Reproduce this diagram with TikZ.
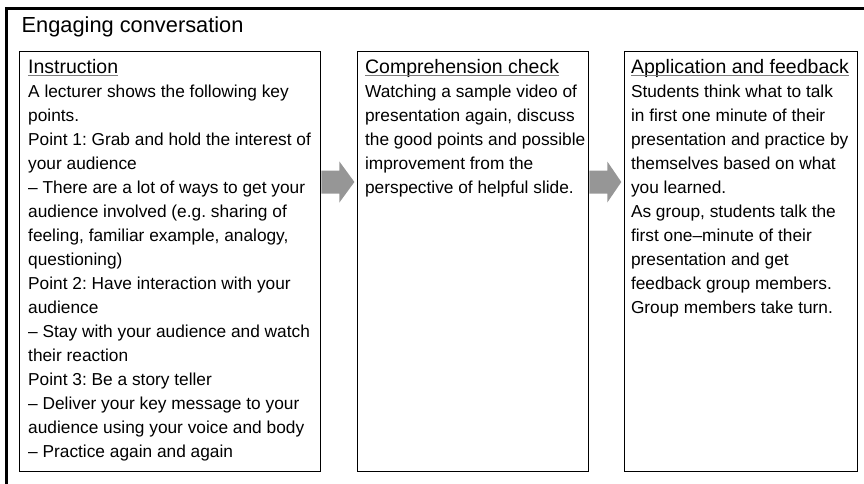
\documentclass[tikz,border=0pt]{standalone}
\usepackage{fontspec}
\setmainfont{Liberation Sans}
\usepackage{tikz}
\usetikzlibrary{positioning,calc}
\usepackage{xcolor}
\frenchspacing

\definecolor{arrowgray}{RGB}{150,150,150}
\definecolor{rulegray}{RGB}{125,125,125}

% underlined panel heading, rule at a fixed depth
\newsavebox\headbox
\newcommand{\headtext}[1]{%
  \sbox\headbox{\fontsize{19.5}{24}\selectfont #1}%
  \usebox\headbox\llap{\color{rulegray}\rule[-2.5pt]{\wd\headbox}{0.9pt}}}

% block arrow from one panel to the next
\newcommand{\flowarrow}[2]{%
  \fill[arrowgray] ($(#1.east |- arrowrow)+(0,-11.5)$) -- ++(18,0) -- ++(0,-9)
    -- ($(#2.west |- arrowrow)+(-2.5,0)$)
    -- ($(#1.east |- arrowrow)+(18,20.5)$) -- ++(0,-9) -- ++(-18,0) -- cycle;}

\begin{document}
\begin{tikzpicture}[
    x=1pt, y=-1pt,
    panel/.style={
        draw,
        line width=1.4pt,
        minimum width=#1,
        minimum height=420pt,
        inner sep=0pt
    },
    paneltext/.style={
        anchor=north west,
        inner sep=0pt,
        align=left,
        font=\fontsize{17.3}{24}\selectfont
    }
]
\useasboundingbox (0,0) rectangle (864,484);
\clip (0,0) rectangle (864,484);

% outer frame, cut off at the right and bottom
\draw[line width=3pt] (6.5,8.5) rectangle (900,520);

\node[anchor=base west, inner sep=0pt, font=\fontsize{21.8}{26}\selectfont] (heading) at (21.5,33) {Engaging conversation};

\node[panel=301pt, anchor=north west] (instr) at (19,51) {};
\node[panel=231pt, right=35.5pt of instr] (check) {};
\node[panel=233pt, right=34.5pt of check] (apply) {};

\node[paneltext] (instrtext) at ($(instr.north west)+(9,8)$) {%
\headtext{Instruction}\\
A lecturer shows the following key\\
points.\\
Point 1: Grab and hold the interest of\\
your audience\\
-- There are a lot of ways to get your\\
audience involved (e.g. sharing of\\
feeling, familiar example, analogy,\\
questioning)\\
Point 2: Have interaction with your\\
audience\\
-- Stay with your audience and watch\\
their reaction\\
Point 3: Be a story teller\\
-- Deliver your key message to your\\
audience using your voice and body\\
-- Practice again and again};

\node[paneltext] (checktext) at ($(check.north west)+(8,8)$) {%
\headtext{Comprehension check}\\
Watching a sample video of\\
presentation again, discuss\\
the good points and possible\\
improvement from the\\
perspective of helpful slide.};

\node[paneltext] (applytext) at ($(apply.north west)+(7,8)$) {%
\headtext{Application and feedback}\\
Students think what to talk\\
in first one minute of their\\
presentation and practice by\\
themselves based on what\\
you learned.\\
As group, students talk the\\
first one--minute of their\\
presentation and get\\
feedback group members.\\
Group members take turn.};

\coordinate (arrowrow) at (0,182);
\flowarrow{instr}{check}
\flowarrow{check}{apply}

\end{tikzpicture}
\end{document}
